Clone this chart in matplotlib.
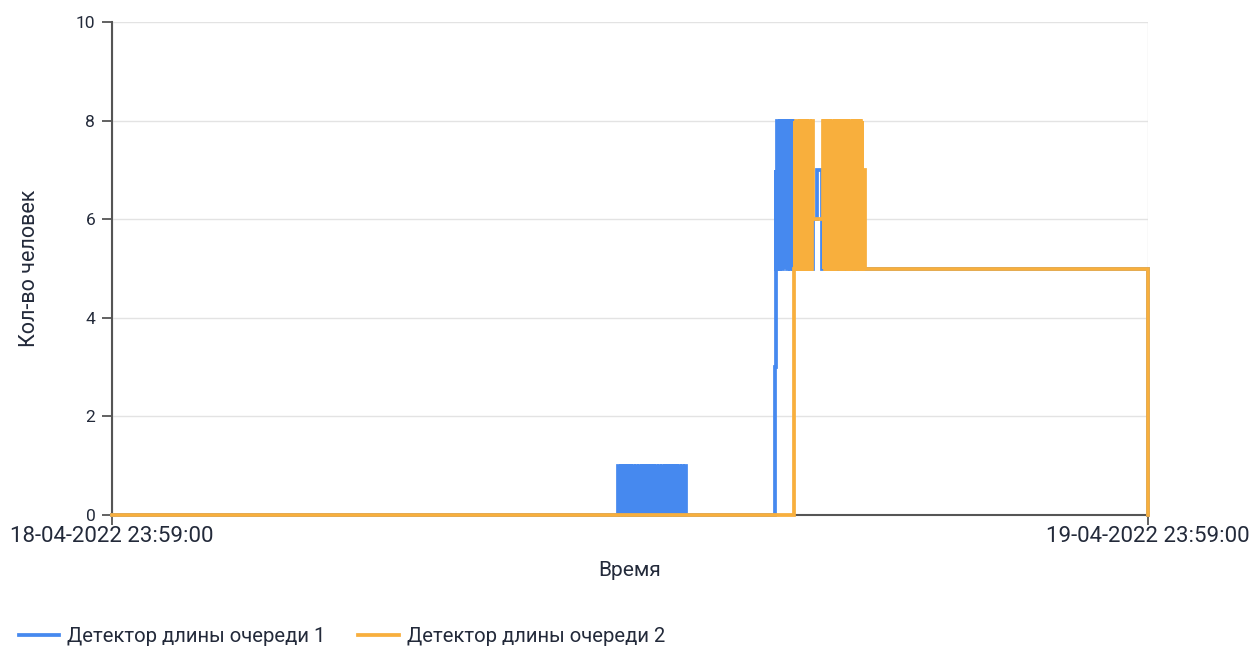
import matplotlib
matplotlib.use("Agg")
import matplotlib.pyplot as plt
import numpy as np

plt.rcParams['font.family'] = ['Roboto', 'DejaVu Sans']

# ---- data (time in minutes after 18-04-2022 23:59:00) ----
x_tick_pos = [0, 1440]
x_tick_labels = ["18-04-2022 23:59:00", "19-04-2022 23:59:00"]
y_ticks = [0, 2, 4, 6, 8, 10]
series_names = ["Детектор длины очереди 1", "Детектор длины очереди 2"]

# Detector 1: explicit change points (minute, value)
blue_before = [(0, 0)]
# dense 0/1 block, sampled every 2 minutes starting at minute 704
blue_block1_start, blue_block1_step = 704, 2
blue_block1_vals = [1, 0, 1, 0, 1, 0, 1, 0, 1, 0, 1, 0, 1, 0, 1, 0, 1, 0, 1, 0,
                    1, 0, 1, 0, 1, 0, 1, 0, 1, 0, 1, 0, 1, 0, 1, 0, 1, 0, 1, 0,
                    1, 0, 1, 0, 1, 0, 1, 0, 0]
blue_mid = [(921, 3)]
blue_block2_start, blue_block2_step = 922.5, 1
blue_block2_vals = [7, 5, 8, 5, 8, 5, 8, 6, 8, 5, 8, 5, 7, 8, 5, 8, 5, 8, 6, 8,
                    5, 8, 5, 8]
blue_after = [(946.5, 5), (974, 6), (980, 7), (987, 5), (1440, 0)]

# Detector 2
orange_before = [(0, 0), (948, 5)]
orange_block1_start, orange_block1_step = 949, 1
orange_block1_vals = [8, 5, 8, 5, 8, 7, 5, 8, 5, 8, 5, 8, 5, 8, 5, 7, 8, 5, 8, 5,
                      8, 5, 8, 5, 8]
orange_mid = [(974, 6)]
orange_block2_start, orange_block2_step = 988, 1
orange_block2_vals = [8, 5, 8, 5, 8, 5, 8, 5, 7, 8, 5, 8, 5, 8, 5, 8, 5, 8, 5, 8,
                      5, 8, 5, 8, 7, 5, 8, 5, 8, 5, 8, 5, 8, 5, 8, 5, 8, 5, 8, 5,
                      8, 6, 8, 5, 8, 5, 8, 5, 8, 5, 8, 5, 8, 5, 8, 5, 7, 7]
orange_after = [(1046, 5), (1440, 0)]

blue_color = "#4689EF"
orange_color = "#F8AF3D"
text_color = "#232a3a"


def build(parts):
    t, v = [], []
    for p in parts:
        if isinstance(p, tuple) and len(p) == 3:
            start, step, vals = p
            for i, val in enumerate(vals):
                t.append(start + step * i)
                v.append(val)
        else:
            for (tt, vv) in p:
                t.append(tt)
                v.append(vv)
    return np.array(t, float), np.array(v, float)


bt, bv = build([blue_before,
                (blue_block1_start, blue_block1_step, blue_block1_vals),
                blue_mid,
                (blue_block2_start, blue_block2_step, blue_block2_vals),
                blue_after])
ot, ov = build([orange_before,
                (orange_block1_start, orange_block1_step, orange_block1_vals),
                orange_mid,
                (orange_block2_start, orange_block2_step, orange_block2_vals),
                orange_after])

fig = plt.figure(figsize=(12.54, 6.48), dpi=100)
ax = fig.add_axes([112 / 1254, 1 - 515 / 648, (1148 - 112) / 1254, (515 - 22) / 648])

ax.step(bt, bv, where="post", color=blue_color, lw=2.7, label=series_names[0],
        solid_joinstyle="miter", zorder=3, clip_on=False)
ax.step(ot, ov, where="post", color=orange_color, lw=2.7, label=series_names[1],
        solid_joinstyle="miter", zorder=4, clip_on=False)

ax.set_xlim(x_tick_pos[0], x_tick_pos[1])
ax.set_ylim(0, 10)
ax.set_yticks(y_ticks)
ax.set_yticklabels([str(y) for y in y_ticks], fontsize=12.5, color=text_color)
ax.set_xticks(x_tick_pos)
ax.set_xticklabels(x_tick_labels, fontsize=16, color=text_color)
ax.tick_params(axis="both", length=7, width=1.3, color="#555555")
ax.tick_params(axis="x", pad=1)
ax.tick_params(axis="y", pad=5)

ax.grid(True, color="#e3e3e3", lw=1.0, zorder=0)
for s in ["top", "right"]:
    ax.spines[s].set_visible(False)
for s in ["left", "bottom"]:
    ax.spines[s].set_color("#555555")
    ax.spines[s].set_linewidth(1.5)
ax.set_axisbelow(True)

ax.set_xlabel("Время", fontsize=15, color=text_color, labelpad=10)
ax.set_ylabel("Кол-во человек", fontsize=15.5, color=text_color, labelpad=26)

fig.legend(loc="lower left", bbox_to_anchor=(0.0004, -0.0255), ncol=2, frameon=False,
           fontsize=14.6, handlelength=2.0, columnspacing=1.6, handletextpad=0.4,
           labelcolor=text_color)

fig.savefig("out.png", dpi=100)
